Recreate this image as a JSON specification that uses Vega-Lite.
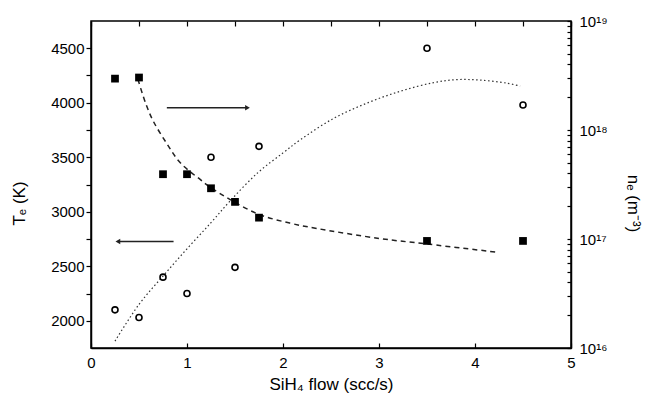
{
  "$schema": "https://vega.github.io/schema/vega-lite/v6.json",
  "width": 480,
  "height": 327,
  "autosize": "none",
  "padding": {"left": 91, "top": 21, "right": 75, "bottom": 55},
  "background": "white",
  "config": {
    "view": {"stroke": "black", "strokeWidth": 1.5},
    "axis": {
      "labelFont": "Liberation Sans",
      "titleFont": "Liberation Sans",
      "labelFontSize": 15,
      "titleFontSize": 17,
      "titleFontWeight": "normal",
      "labelColor": "black",
      "titleColor": "black",
      "domainColor": "black",
      "domainWidth": 1.5,
      "tickColor": "black",
      "tickWidth": 1.2,
      "grid": false,
      "labelFlush": false,
      "labelOverlap": false
    }
  },
  "datasets": {
    "te": [
      {"flow": 0.25, "T": 2100},
      {"flow": 0.5, "T": 2030},
      {"flow": 0.75, "T": 2400},
      {"flow": 1.0, "T": 2250},
      {"flow": 1.25, "T": 3500},
      {"flow": 1.5, "T": 2490},
      {"flow": 1.75, "T": 3600},
      {"flow": 3.5, "T": 4500},
      {"flow": 4.5, "T": 3980}
    ],
    "tefit": [
      {"flow": 0.25, "T": 1813},
      {"flow": 0.5, "T": 2150},
      {"flow": 0.75, "T": 2410},
      {"flow": 1.0, "T": 2660},
      {"flow": 1.25, "T": 2900},
      {"flow": 1.45, "T": 3100},
      {"flow": 1.74, "T": 3360},
      {"flow": 2.0, "T": 3540},
      {"flow": 2.18, "T": 3660},
      {"flow": 2.52, "T": 3853},
      {"flow": 2.87, "T": 3995},
      {"flow": 3.22, "T": 4105},
      {"flow": 3.57, "T": 4185},
      {"flow": 3.81, "T": 4212},
      {"flow": 4.05, "T": 4208},
      {"flow": 4.33, "T": 4180},
      {"flow": 4.47, "T": 4153}
    ],
    "ne": [
      {"flow": 0.25, "n": 2.96e18},
      {"flow": 0.5, "n": 3.03e18},
      {"flow": 0.75, "n": 3.93e17},
      {"flow": 1.0, "n": 3.93e17},
      {"flow": 1.25, "n": 2.92e17},
      {"flow": 1.5, "n": 2.19e17},
      {"flow": 1.75, "n": 1.57e17},
      {"flow": 3.5, "n": 9.6e16},
      {"flow": 4.5, "n": 9.6e16}
    ],
    "nefit": [
      {"flow": 0.49, "n": 2.9e18},
      {"flow": 0.57, "n": 1.75e18},
      {"flow": 0.65, "n": 1.2e18},
      {"flow": 0.79, "n": 7.5e17},
      {"flow": 0.93, "n": 5.0e17},
      {"flow": 1.14, "n": 3.5e17},
      {"flow": 1.25, "n": 2.95e17},
      {"flow": 1.45, "n": 2.3e17},
      {"flow": 1.75, "n": 1.68e17},
      {"flow": 2.07, "n": 1.4e17},
      {"flow": 2.35, "n": 1.25e17},
      {"flow": 3.01, "n": 1.01e17},
      {"flow": 3.5, "n": 9.0e16},
      {"flow": 4.21, "n": 7.6e16}
    ],
    "arrows": [
      {"arrow": "n_e", "from": 0.79, "to": 1.63, "T": 3954},
      {"arrow": "T_e", "from": 0.86, "to": 0.28, "T": 2727}
    ]
  },
  "layer": [
    {
      "encoding": {
        "x": {
          "type": "quantitative",
          "scale": {"domain": [0, 5], "nice": false, "zero": false},
          "axis": {
            "orient": "bottom",
            "title": "SiH₄ flow (scc/s)",
            "values": [0, 0.5, 1, 1.5, 2, 2.5, 3, 3.5, 4, 4.5, 5],
            "format": "d",
            "labelExpr": "datum.value % 1 == 0 ? datum.label : ''",
            "tickSize": -5,
            "labelPadding": 12,
            "titlePadding": 6
          }
        },
        "y": {
          "type": "quantitative",
          "scale": {"domain": [1750, 4750], "nice": false, "zero": false},
          "axis": {
            "orient": "left",
            "title": "Tₑ (K)",
            "values": [2000, 2250, 2500, 2750, 3000, 3250, 3500, 3750, 4000, 4250, 4500],
            "labelExpr": "datum.value % 500 == 0 ? datum.label : ''",
            "format": "d",
            "tickSize": 5,
            "labelPadding": 2,
            "titleX": -63,
            "titleY": 182
          }
        }
      },
      "layer": [
        {
          "data": {"name": "tefit"},
          "mark": {"type": "line", "interpolate": "catmull-rom", "color": "#333", "strokeWidth": 1.2, "strokeDash": [1.5, 2.5]},
          "encoding": {"x": {"field": "flow"}, "y": {"field": "T"}}
        },
        {
          "data": {"name": "te"},
          "mark": {"type": "point", "shape": "circle", "filled": false, "color": "black", "strokeWidth": 1.6, "size": 36, "opacity": 1},
          "encoding": {"x": {"field": "flow"}, "y": {"field": "T"}}
        },
        {
          "data": {"name": "arrows"},
          "mark": {"type": "rule", "color": "#222", "strokeWidth": 1.4},
          "encoding": {"x": {"field": "from"}, "x2": {"field": "to"}, "y": {"field": "T"}}
        },
        {
          "data": {"name": "arrows"},
          "mark": {"type": "point", "filled": true, "color": "#222", "size": 30, "opacity": 1},
          "encoding": {
            "x": {"field": "to"},
            "y": {"field": "T"},
            "shape": {"field": "arrow", "type": "nominal", "scale": {"domain": ["n_e", "T_e"], "range": ["triangle-right", "triangle-left"]}, "legend": null}
          }
        }
      ]
    },
    {
      "encoding": {
        "x": {
          "type": "quantitative",
          "scale": {"domain": [0, 5], "nice": false, "zero": false},
          "axis": {
            "orient": "top",
            "title": null,
            "labels": false,
            "values": [0, 0.5, 1, 1.5, 2, 2.5, 3, 3.5, 4, 4.5, 5],
            "tickSize": -5,
            "domain": false
          }
        },
        "y": {
          "type": "quantitative",
          "scale": {"type": "log", "domain": [1e16, 1e19], "nice": false},
          "axis": {
            "orient": "right",
            "title": "nₑ (m⁻³)",
            "values": [1e16, 2e16, 3e16, 4e16, 5e16, 6e16, 7e16, 8e16, 9e16, 1e17, 2e17, 3e17, 4e17, 5e17, 6e17, 7e17, 8e17, 9e17, 1e18, 2e18, 3e18, 4e18, 5e18, 6e18, 7e18, 8e18, 9e18, 1e19],
            "labelExpr": "datum.value == 1e16 ? '10¹⁶' : datum.value == 1e17 ? '10¹⁷' : datum.value == 1e18 ? '10¹⁸' : datum.value == 1e19 ? '10¹⁹' : ''",
            "tickSize": -4,
            "labelPadding": 12,
            "titleX": 52,
            "titleY": 182
          }
        }
      },
      "layer": [
        {
          "data": {"name": "nefit"},
          "mark": {"type": "line", "interpolate": "catmull-rom", "color": "#222", "strokeWidth": 1.5, "strokeDash": [5, 4]},
          "encoding": {"x": {"field": "flow"}, "y": {"field": "n"}}
        },
        {
          "data": {"name": "ne"},
          "mark": {"type": "square", "filled": true, "color": "black", "size": 60, "opacity": 1},
          "encoding": {"x": {"field": "flow"}, "y": {"field": "n"}}
        }
      ]
    }
  ],
  "resolve": {"scale": {"y": "independent"}, "axis": {"x": "independent"}}
}
